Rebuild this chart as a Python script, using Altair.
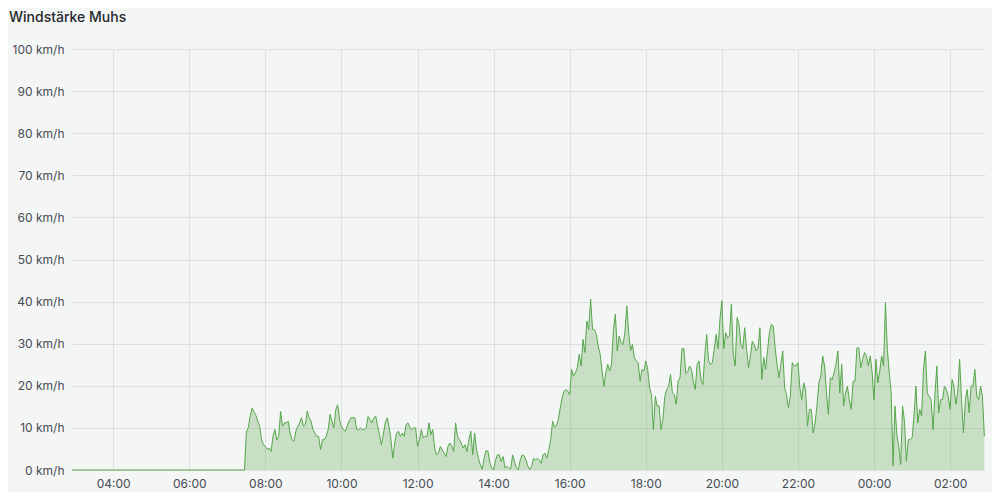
import altair as alt
import pandas as pd
from datetime import datetime, timedelta, timezone

TITLE = "Windstärke Muhs"

# Wind speed (km/h), one reading every 3 minutes, starting at the listed time
calm_start = "2024-06-01 02:55"
calm_end = "2024-06-01 07:27"
axis_ticks = ["2024-06-01 04:00", "2024-06-01 06:00", "2024-06-01 08:00", "2024-06-01 10:00",
              "2024-06-01 12:00", "2024-06-01 14:00", "2024-06-01 16:00", "2024-06-01 18:00",
              "2024-06-01 20:00", "2024-06-01 22:00", "2024-06-02 00:00", "2024-06-02 02:00"]
x_domain = ["2024-06-01 02:55", "2024-06-02 02:55"]

v_0730 = [9, 10, 12.7, 14.7, 13.8, 13, 11.6, 10.4, 7.2, 6]
v_08 = [5.6, 4.9, 5.2, 4.4, 8, 9.6, 7.2, 8, 13.9, 10.4, 11.2, 11.2, 11.6, 8.8, 7.2, 6.8, 9.2, 10.4, 11.2, 12.4]
v_09 = [10.4, 10.8, 14, 12.4, 11.6, 9.6, 8.8, 8, 8, 4.8, 7.2, 7.2, 8, 9.6, 13.2, 11.6, 10, 14.3, 15.5, 12]
v_10 = [10.4, 9.6, 9.2, 10.4, 11.6, 12.4, 12.4, 12.4, 9.6, 9.6, 10, 9.6, 9.6, 10, 12.7, 12, 11.2, 12.4, 12.8, 10.4]
v_11 = [8.4, 6, 8.4, 11.2, 12.4, 10.4, 7.2, 2.8, 6.4, 8.8, 9.2, 8, 8.8, 8, 10.8, 11.2, 10, 9.6, 10, 10]
v_12 = [5.6, 7.2, 9.6, 7.6, 8, 8, 11.2, 8.4, 9.6, 5.2, 3.6, 4, 5.6, 4.8, 4, 3.2, 5.6, 6.4, 5.6, 4.4]
v_13 = [11.2, 8, 7.2, 6.4, 5.2, 6, 4.4, 7.2, 9.2, 3.6, 8.8, 4.8, 2.8, 1.2, 0.2, 2.8, 4.6, 4.5, 1.8, 0.5]
v_14 = [0.1, 2.3, 3.6, 3.6, 2, 3.2, 0.5, 0.9, 0.4, 0.3, 3.6, 2, 0.5, 0.1, 2.4, 3.6, 3.4, 2.4, 0.9, 0.1]
v_15 = [0.9, 2.8, 2.3, 2.8, 2.4, 1.6, 3.6, 4, 2.8, 4.8, 7.2, 11.6, 10.2, 10.5, 12, 14.7, 17.1, 18.7, 19.1, 18.7]
v_16 = [17.9, 23.9, 22.3, 23.1, 24.3, 27.5, 24.7, 31, 27.9, 35.4, 33.4, 40.6, 33.4, 33.3, 32.2, 29.4, 27.5, 23.5, 19.9, 23.1]
v_17 = [25.1, 23.5, 25.1, 33.4, 37, 28.3, 31.8, 30.2, 29.8, 32.6, 39, 32.6, 28.3, 29.8, 26.7, 25.9, 25.5, 21.1, 23.9, 23.5]
v_18 = [25.9, 23.9, 19.5, 17.9, 9.6, 17.5, 15.2, 15.2, 9.6, 12, 17.5, 19.1, 19.9, 22.7, 18.3, 17.9, 15.6, 21.1, 21.9, 28.8]
v_19 = [28.8, 22.9, 23.3, 24.7, 23.9, 21.1, 19.1, 25.1, 25.9, 21.5, 20.3, 27.1, 32.2, 26, 25.1, 25.5, 28.8, 32.2, 28.8, 35.8]
v_20 = [40.2, 28.8, 32.6, 31.4, 31.8, 39.4, 27.5, 24.7, 36.2, 34.6, 29.8, 28.8, 33.8, 28.6, 24.3, 27.1, 30.6, 29.8, 28.3, 29]
v_21 = [33.8, 21.5, 26.7, 23.9, 28.3, 32.6, 34.6, 34.2, 29, 25.1, 21.9, 25.1, 28.3, 19.5, 17.9, 14.8, 17.5, 25.5, 24.7, 24.7]
v_22 = [25.5, 19.5, 16.7, 20.7, 19.1, 10.4, 14.4, 14.4, 8.8, 11.2, 15.2, 20.7, 22.3, 27.1, 24.7, 18.3, 13.2, 21.9, 21.5, 23.1]
v_23 = [25.1, 28.3, 18.3, 25.1, 15.2, 18.3, 19.9, 16.7, 14.4, 21.1, 21.1, 29, 29, 24.3, 26.3, 27.9, 27.1, 24.7, 27.1, 23.1]
v_00 = [16.7, 26.3, 20.7, 23.5, 27.1, 24.7, 39.8, 28.6, 23.1, 18.3, 1, 15.2, 8.4, 5.6, 1.3, 15.2, 11.6, 2.1, 7.2, 7.2]
v_01 = [7.6, 12.8, 19.9, 11.2, 14.4, 12.8, 23.9, 28.3, 18.3, 17.5, 16.7, 9.6, 17.9, 24.7, 13.6, 16.7, 16.7, 19.9, 19.1, 17.5]
v_02 = [14.4, 21.5, 19.9, 15.6, 18.3, 26.3, 16.7, 8.8, 16.7, 19.1, 13.6, 19.9, 19.9, 23.9, 17.5, 16.7, 19.9, 17.5, 8]

segments = [
    ("2024-06-01 07:30", v_0730), ("2024-06-01 08:00", v_08), ("2024-06-01 09:00", v_09),
    ("2024-06-01 10:00", v_10), ("2024-06-01 11:00", v_11), ("2024-06-01 12:00", v_12),
    ("2024-06-01 13:00", v_13), ("2024-06-01 14:00", v_14), ("2024-06-01 15:00", v_15),
    ("2024-06-01 16:00", v_16), ("2024-06-01 17:00", v_17), ("2024-06-01 18:00", v_18),
    ("2024-06-01 19:00", v_19), ("2024-06-01 20:00", v_20), ("2024-06-01 21:00", v_21),
    ("2024-06-01 22:00", v_22), ("2024-06-01 23:00", v_23), ("2024-06-02 00:00", v_00),
    ("2024-06-02 01:00", v_01), ("2024-06-02 02:00", v_02),
]


def parse(s):
    return datetime.strptime(s, "%Y-%m-%d %H:%M").replace(tzinfo=timezone.utc)


def ms(d):
    return int(d.timestamp() * 1000)


rows = [{"t": ms(parse(calm_start)), "v": 0}, {"t": ms(parse(calm_end)), "v": 0}]
for start, vals in segments:
    t0 = parse(start)
    for i, v in enumerate(vals):
        rows.append({"t": ms(t0 + timedelta(minutes=3 * i)), "v": v})
df = pd.DataFrame(rows)

GREEN = "#56a64b"
FONT = "Inter"
LABEL = "#464c54"
GRID = "#dfe0e1"

x = alt.X(
    "t:T",
    scale=alt.Scale(type="utc", domain=[ms(parse(d)) for d in x_domain]),
    axis=alt.Axis(
        title=None, values=[ms(parse(d)) for d in axis_ticks],
        labelExpr="utcFormat(datum.value, '%H:%M')",
        grid=True, gridColor=GRID, ticks=False, domain=False,
        labelFont=FONT, labelFontSize=12, labelColor=LABEL, labelPadding=8,
        labelFlush=False,
    ),
)
y = alt.Y(
    "v:Q",
    scale=alt.Scale(domain=[0, 100], nice=False),
    axis=alt.Axis(
        title=None, values=list(range(0, 101, 10)), labelExpr="datum.value + ' km/h'",
        grid=True, gridColor=GRID, ticks=False, domain=False,
        labelFont=FONT, labelFontSize=12, labelColor=LABEL, labelPadding=8,
    ),
)

base = alt.Chart(df)
area = base.mark_area(color=GREEN, fillOpacity=0.28, interpolate="linear").encode(x=x, y=y)
line = base.mark_line(color=GREEN, strokeWidth=1, interpolate="linear").encode(x=x, y=y)

title = alt.Chart(pd.DataFrame({"title": [TITLE]})).mark_text(
    align="left", baseline="alphabetic", font=FONT, fontSize=14, fontWeight=500, color="#24292e"
).encode(x=alt.value(-63), y=alt.value(-27), text="title:N")

chart = (
    alt.layer(area, line, title)
    .properties(
        width=913, height=421,
        autosize=alt.AutoSizeParams(type="none"),
        padding={"left": 64, "top": 41, "right": 7, "bottom": 22},
        background="#f4f5f5",
    )
    .configure_view(stroke=None)
)

chart.save("out.html", embed_options={"renderer": "svg", "actions": False})
